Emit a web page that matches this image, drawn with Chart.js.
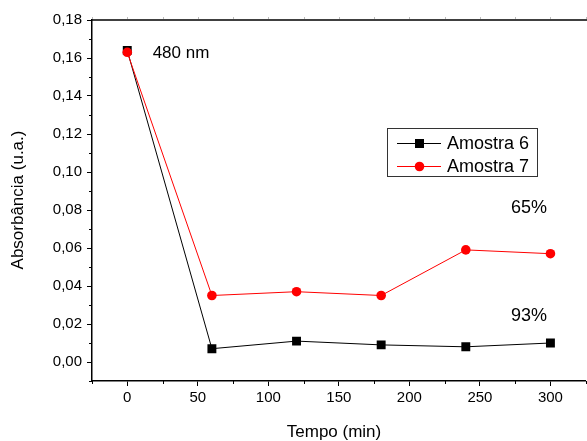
<!DOCTYPE html>
<html>
<head>
<meta charset="utf-8">
<script src="https://cdn.jsdelivr.net/npm/chart.js@4/dist/chart.umd.min.js"></script>
<style>
html,body{margin:0;padding:0;background:#fff;overflow:hidden;}
#wrap{width:587px;height:441px;overflow:hidden;position:relative;}
canvas{display:block;}
</style>
</head>
<body>
<div id="wrap"><canvas id="c" width="592" height="441" style="width:592px;height:441px"></canvas></div>
<script>
const tempo = [0, 60, 120, 180, 240, 300];
const amostra6 = [0.164, 0.007, 0.011, 0.009, 0.008, 0.010];
const amostra7 = [0.163, 0.035, 0.037, 0.035, 0.059, 0.057];
const seriesNames = ['Amostra 6', 'Amostra 7'];
const xTickValues = [0, 50, 100, 150, 200, 250, 300];
const xTickLabels = ['0', '50', '100', '150', '200', '250', '300'];
const yTickValues = [0, 0.02, 0.04, 0.06, 0.08, 0.10, 0.12, 0.14, 0.16, 0.18];
const yTickLabels = ['0,00', '0,02', '0,04', '0,06', '0,08', '0,10', '0,12', '0,14', '0,16', '0,18'];
const xTitle = 'Tempo (min)';
const yTitle = 'Absorbância (u.a.)';
const notes = [
  {text: '480 nm', x: 18, y: 0.1625},
  {text: '65%', x: 272, y: 0.081},
  {text: '93%', x: 272, y: 0.024}
];

const FONT = '"Liberation Sans", Arial, sans-serif';

const decor = {
  id: 'decor',
  afterDatasetsDraw(chart) {
    const ctx = chart.ctx;
    const a = chart.chartArea;
    const xs = chart.scales.x, ys = chart.scales.y;
    ctx.save();
    // top border
    ctx.strokeStyle = '#000';
    ctx.lineWidth = 1.5;
    ctx.beginPath();
    ctx.moveTo(a.left - 0.75, a.top);
    ctx.lineTo(a.right + 2, a.top);
    ctx.stroke();
    // minor ticks
    ctx.lineWidth = 1;
    ctx.beginPath();
    for (let v = -0.01; v < 0.18; v += 0.02) {
      const py = Math.round(ys.getPixelForValue(v)) + 0.5;
      ctx.moveTo(a.left - 3, py);
      ctx.lineTo(a.left, py);
    }
    for (let v = -25; v <= 325; v += 50) {
      const px = Math.round(xs.getPixelForValue(v)) + 0.5;
      ctx.moveTo(px, a.bottom);
      ctx.lineTo(px, a.bottom + 3);
    }
    ctx.stroke();
    // faint top ticks
    ctx.strokeStyle = '#bbb';
    ctx.beginPath();
    for (let v = -25; v <= 325; v += 25) {
      const px = Math.round(xs.getPixelForValue(v)) + 0.5;
      ctx.moveTo(px, a.top - 1);
      ctx.lineTo(px, a.top - 3);
    }
    ctx.stroke();
    // annotations
    ctx.fillStyle = '#000';
    ctx.textBaseline = 'middle';
    ctx.textAlign = 'left';
    notes.forEach((n, i) => {
      ctx.font = (i === 0 ? '17px ' : '18px ') + FONT;
      ctx.fillText(n.text, xs.getPixelForValue(n.x), ys.getPixelForValue(n.y));
    });
    // axis titles
    ctx.font = '17px ' + FONT;
    ctx.textAlign = 'center';
    ctx.fillText(xTitle, 334, 432);
    ctx.save();
    ctx.translate(18, 200);
    ctx.rotate(-Math.PI / 2);
    ctx.fillText(yTitle, 0, 0);
    ctx.restore();
    // legend
    const lx = 387, ly = 128, lw = 150, lh = 48;
    ctx.strokeStyle = '#333';
    ctx.lineWidth = 1;
    ctx.strokeRect(lx + 0.5, ly + 0.5, lw, lh);
    const rows = [
      {name: seriesNames[0], color: '#000', style: 'rect', y: 143},
      {name: seriesNames[1], color: '#ff0000', style: 'circle', y: 166}
    ];
    ctx.font = '18px ' + FONT;
    ctx.textAlign = 'left';
    rows.forEach(r => {
      ctx.strokeStyle = r.color;
      ctx.lineWidth = 1;
      ctx.beginPath();
      ctx.moveTo(397, r.y + 0.5);
      ctx.lineTo(441, r.y + 0.5);
      ctx.stroke();
      ctx.fillStyle = r.color;
      if (r.style === 'rect') {
        ctx.fillRect(415, r.y - 4, 9, 9);
      } else {
        ctx.beginPath();
        ctx.arc(419.5, r.y + 0.5, 4.8, 0, Math.PI * 2);
        ctx.fill();
      }
      ctx.fillStyle = '#000';
      ctx.fillText(r.name, 447, r.y + 1);
    });
    ctx.restore();
  }
};

new Chart(document.getElementById('c'), {
  type: 'line',
  data: {
    datasets: [
      {
        label: seriesNames[0],
        data: tempo.map((t, i) => ({x: t, y: amostra6[i]})),
        borderColor: '#000', backgroundColor: '#000',
        borderWidth: 1, pointStyle: 'rect', pointRadius: 6.3,
        pointBorderWidth: 0, tension: 0, order: 2
      },
      {
        label: seriesNames[1],
        data: tempo.map((t, i) => ({x: t, y: amostra7[i]})),
        borderColor: '#ff0000', backgroundColor: '#ff0000',
        borderWidth: 1, pointStyle: 'circle', pointRadius: 4.8,
        pointBorderWidth: 0, tension: 0, order: 1
      }
    ]
  },
  options: {
    responsive: false,
    animation: false,
    layout: {padding: {left: 0, right: 2, top: 20, bottom: 0}},
    plugins: {legend: {display: false}, tooltip: {enabled: false}},
    scales: {
      x: {
        type: 'linear', min: -25, max: 325,
        afterBuildTicks: s => { s.ticks = xTickValues.map(v => ({value: v})); },
        afterFit: s => { s.height = 60; },
        ticks: {
          color: '#000', padding: 3, maxRotation: 0, autoSkip: false,
          font: {family: FONT, size: 15},
          callback: (v) => { const i = xTickValues.indexOf(v); return i >= 0 ? xTickLabels[i] : ''; }
        },
        grid: {display: true, drawOnChartArea: false, drawTicks: true, tickLength: 5, tickColor: '#000', tickWidth: 1},
        border: {display: true, color: '#000', width: 1.5}
      },
      y: {
        type: 'linear', min: -0.01, max: 0.18,
        afterBuildTicks: s => { s.ticks = yTickValues.map(v => ({value: v})); },
        afterFit: s => { s.width = 92; },
        ticks: {
          color: '#000', padding: 5, autoSkip: false,
          font: {family: FONT, size: 15},
          callback: (v) => { const i = yTickValues.findIndex(t => Math.abs(t - v) < 1e-9); return i >= 0 ? yTickLabels[i] : ''; }
        },
        grid: {display: true, drawOnChartArea: false, drawTicks: true, tickLength: 5, tickColor: '#000', tickWidth: 1},
        border: {display: true, color: '#000', width: 1.5}
      }
    }
  },
  plugins: [decor]
});
</script>
</body>
</html>
